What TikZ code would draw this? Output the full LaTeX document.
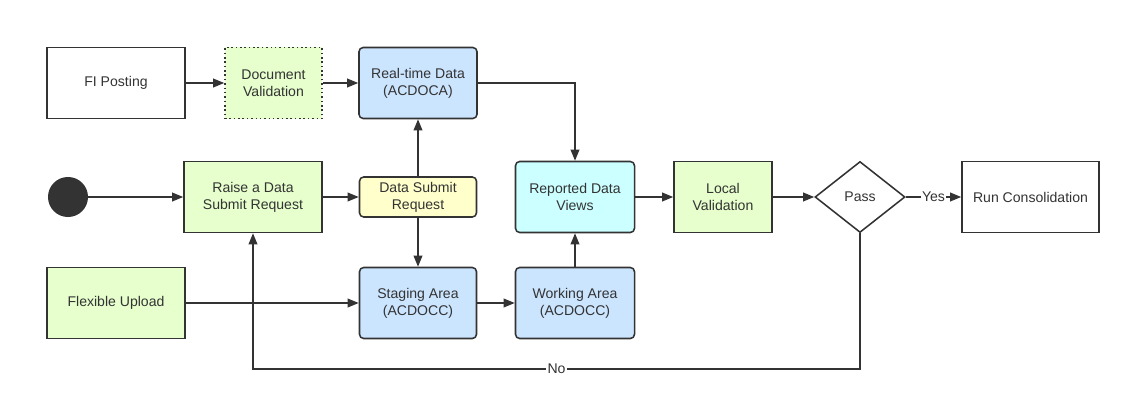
\documentclass[tikz,border=0pt]{standalone}
\usepackage{fontspec}
\setmainfont{Liberation Sans}
\usetikzlibrary{arrows.meta,shapes.geometric}

\definecolor{boxgreen}{HTML}{E6FFCC}
\definecolor{boxblue}{HTML}{CCE5FF}
\definecolor{boxcyan}{HTML}{CCFFFF}
\definecolor{boxyellow}{HTML}{FFFFCC}
\definecolor{linegray}{HTML}{333333}

\tikzset{
  box/.style={draw=linegray, line width=1.1pt, align=center, text=linegray,
    minimum height=1.775cm, inner sep=2pt, font=\fontsize{10}{12}\selectfont},
  rbox/.style={box, rounded corners=3pt},
  flow/.style={->, draw=linegray, line width=1.1pt},
  flowlabel/.style={fill=white, inner sep=1pt, text=linegray, font=\fontsize{10}{12}\selectfont},
}

\begin{document}
\begin{tikzpicture}[x=0.025cm, y=-0.025cm, >={Triangle[length=0.28cm,width=0.22cm]}]
  \useasboundingbox (0,0) rectangle (1131,401);

  % top row
  \node[box, minimum width=3.45cm] (fi) at (116,83) {FI Posting};
  \node[box, fill=boxgreen, dotted, minimum width=2.425cm] (docval) at (273.5,83) {Document\\Validation};
  \node[rbox, fill=boxblue, minimum width=2.95cm] (rtdata) at (418,83) {Real-time Data\\(ACDOCA)};

  % middle row
  \node[circle, fill=linegray, minimum size=1cm, inner sep=0pt] (start) at (68,197) {};
  \node[box, fill=boxgreen, minimum width=3.45cm] (raise) at (253,197) {Raise a Data\\Submit Request};
  \node[rbox, fill=boxyellow, minimum width=2.925cm, minimum height=1cm] (dsr) at (418,197) {Data Submit\\Request};
  \node[rbox, fill=boxcyan, minimum width=2.975cm] (reported) at (575,197) {Reported Data\\Views};
  \node[box, fill=boxgreen, minimum width=2.45cm] (localval) at (723,197) {Local\\Validation};
  \node[box, diamond, minimum width=2.25cm, minimum height=1.775cm, inner sep=0pt] (pass) at (860,197) {Pass};
  \node[box, minimum width=3.425cm] (run) at (1030.5,197) {Run Consolidation};

  % bottom row
  \node[box, fill=boxgreen, minimum width=3.45cm] (flex) at (116,303) {Flexible Upload};
  \node[rbox, fill=boxblue, minimum width=2.925cm] (staging) at (418,303) {Staging Area\\(ACDOCC)};
  \node[rbox, fill=boxblue, minimum width=2.975cm] (working) at (575,303) {Working Area\\(ACDOCC)};

  \coordinate (nocorner) at (860,369);

  \draw[flow] (fi) -- (docval);
  \draw[flow] (docval) -- (rtdata);
  \draw[flow] (start) -- (raise);
  \draw[flow] (raise) -- (dsr);
  \draw[flow] (dsr) -- (rtdata);
  \draw[flow] (dsr) -- (staging);
  \draw[flow] (rtdata) -| (reported);
  \draw[flow] (flex) -- (staging);
  \draw[flow] (staging) -- (working);
  \draw[flow] (working) -- (reported);
  \draw[flow] (reported) -- (localval);
  \draw[flow] (localval) -- (pass);
  \draw[flow] (pass) -- node[flowlabel]{Yes} (run);
  \draw[flow] (pass.south) -- (nocorner) -- node[flowlabel]{No} (nocorner -| raise) -- (raise.south);
\end{tikzpicture}
\end{document}
